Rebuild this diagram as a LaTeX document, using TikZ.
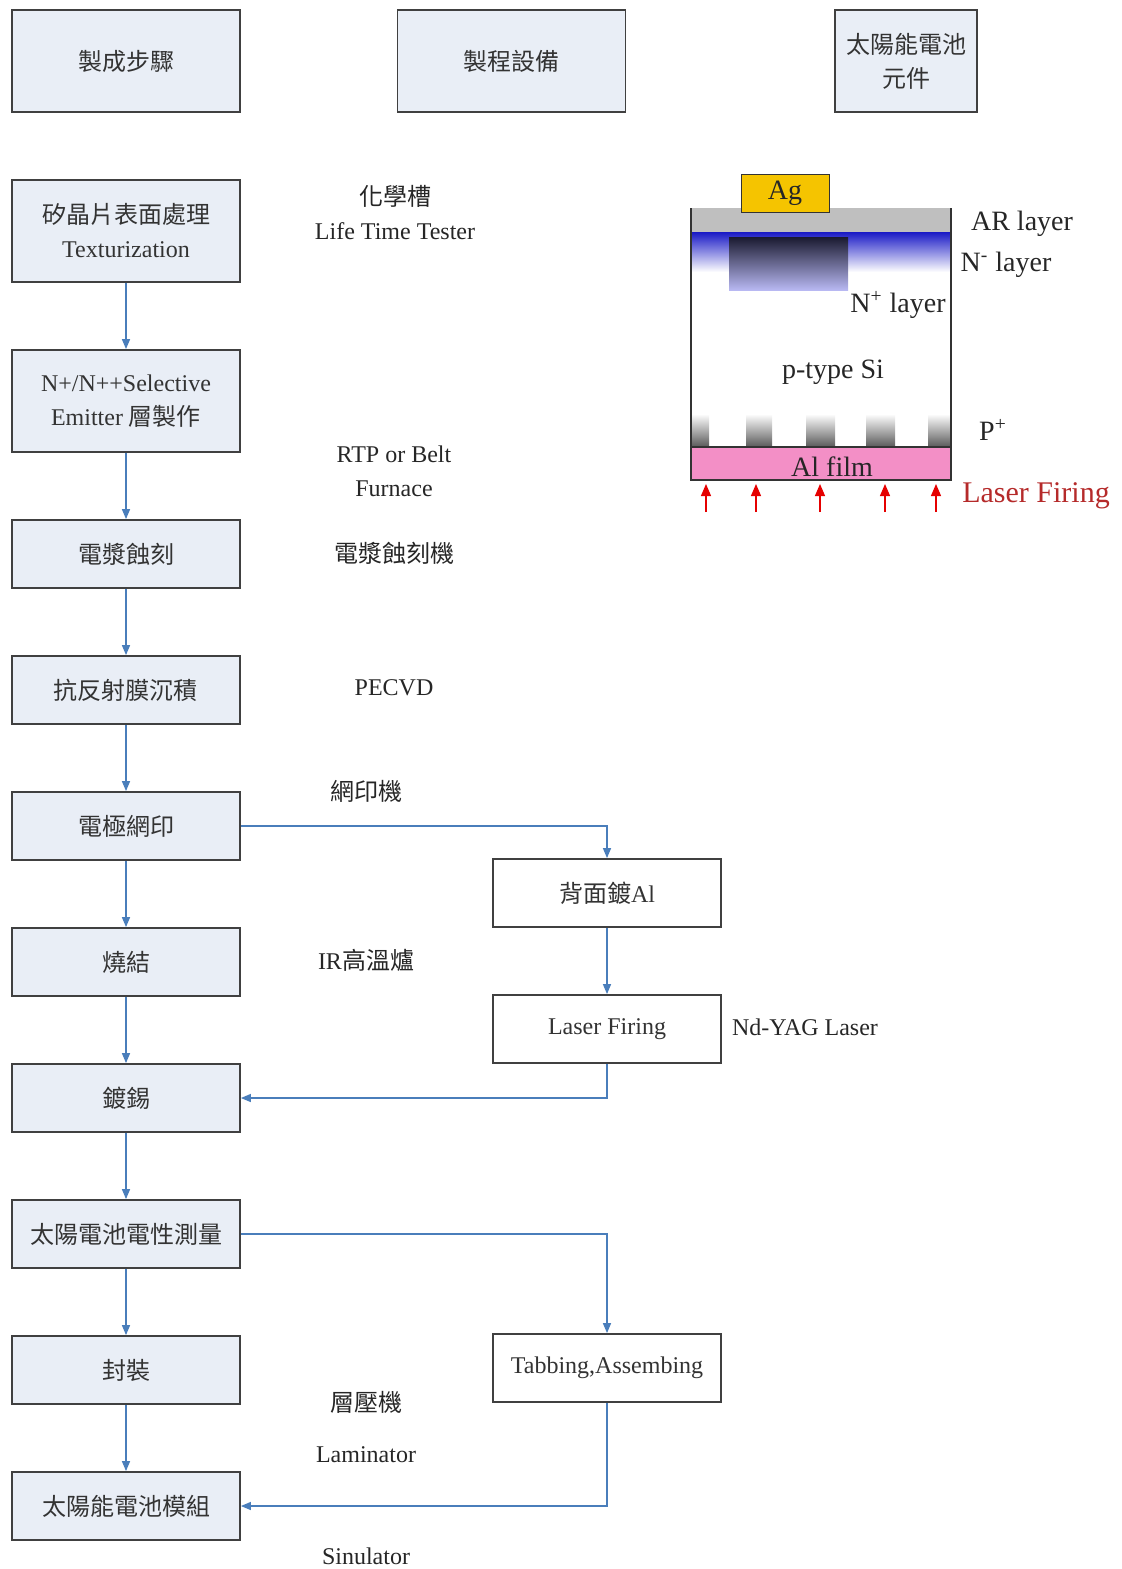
\documentclass[tikz,border=0pt]{standalone}
\usepackage{fontspec}
\setmainfont{Liberation Serif}
\newfontfamily\cjk{Noto Sans CJK TC}
\usetikzlibrary{arrows.meta,positioning}
\definecolor{boxfill}{HTML}{E9EEF6}
\definecolor{flowblue}{HTML}{4A7EBB}
\definecolor{agold}{HTML}{F5C400}
\definecolor{alpink}{HTML}{F38FC6}
\definecolor{firered}{HTML}{B52A2A}
\definecolor{nheavy}{HTML}{1A1A30}
\definecolor{nlight}{HTML}{B8B8F2}

\begin{document}
\begin{tikzpicture}[x=0.5pt,y=-0.5pt,>={Triangle[length=5pt,width=4pt]},node distance=33.1pt,
    font=\fontsize{12}{17}\selectfont,
    stepbox/.style={draw=black!75,line width=0.9pt,fill=boxfill,minimum width=114pt,
      minimum height=34pt,align=center,text=black!80},
    tall/.style={minimum height=51pt},
    sidebox/.style={stepbox,fill=white},
    flow/.style={->,draw=flowblue,line width=0.7pt},
    tool/.style={text=black!85,align=center},
    celltext/.style={text=black!85,font=\fontsize{14}{16}\selectfont}]

    \useasboundingbox (0,0) rectangle (1121,1569);

    \node[stepbox,tall] (hstep) at (126,61) {\cjk 製成步驟};
    \node[stepbox,tall] (htool) at (511.5,61) {\cjk 製程設備};
    \node[stepbox,tall,minimum width=71pt] (hcell) at (906,61) {{\cjk 太陽能電池}\\{\cjk 元件}};

    \node[stepbox,tall,below=of hstep] (tex) {{\cjk 矽晶片表面處理}\\Texturization};
    \node[stepbox,tall,below=of tex] (sel) {N+/N++Selective\\Emitter {\cjk 層製作}};
    \node[stepbox,below=of sel] (etch) {\cjk 電漿蝕刻};
    \node[stepbox,below=of etch] (arc) {\cjk 抗反射膜沉積};
    \node[stepbox,below=of arc] (print) {\cjk 電極網印};
    \node[stepbox,below=of print] (fire) {\cjk 燒結};
    \node[stepbox,below=of fire] (tin) {\cjk 鍍錫};
    \node[stepbox,below=of tin] (meas) {\cjk 太陽電池電性測量};
    \node[stepbox,below=of meas] (pack) {\cjk 封裝};
    \node[stepbox,below=of pack] (module) {\cjk 太陽能電池模組};

    \node[sidebox] (backal) at (607,893) {{\cjk 背面鍍}Al};
    \node[sidebox,below=of backal] (laser) {Laser Firing};
    \node[sidebox] (tab) at (607,1368) {Tabbing,Assembing};

    \foreach \a/\b in {tex/sel,sel/etch,etch/arc,arc/print,print/fire,fire/tin,tin/meas,meas/pack,pack/module}
      \draw[flow] (\a) -- (\b);
    \draw[flow] (print) -| (backal);
    \draw[flow] (backal) -- (laser);
    \draw[flow] (laser) |- (tin);
    \draw[flow] (meas) -| (tab);
    \draw[flow] (tab) |- (module);

    \node[tool] (chem) at (395,213) {{\cjk 化學槽}\\Life Time Tester};
    \node[tool] (rtp) at (394,471) {RTP or Belt\\Furnace};
    \node[tool] (etcher) at (394,553) {\cjk 電漿蝕刻機};
    \node[tool] (pecvd) at (394,688) {PECVD};
    \node[tool] (screen) at (366,791) {\cjk 網印機};
    \node[tool] (irfurn) at (366,960) {IR{\cjk 高溫爐}};
    \node[tool] (yag) at (805,1027) {Nd-YAG Laser};
    \node[tool] (lam) at (366,1402) {\cjk 層壓機};
    \node[tool] (lamen) at (366,1455) {Laminator};
    \node[tool] (sim) at (366,1556) {Sinulator};

    % cell cross section
    \shade[top color=blue!75!black!90,bottom color=white] (691,232) rectangle (951,272);
    \shade[top color=nheavy,bottom color=nlight] (729,237) rectangle (848,290);
    \fill[black!25] (691,208) rectangle (951,232);
    \foreach \a/\b in {691/709,746/772,806/835,866/895,928/951}
      \shade[top color=white,bottom color=black!65] (\a,414) rectangle (\b,447);
    \fill[alpink] (691,447) rectangle (951,480);
    \draw[black!80,line width=0.6pt] (691,447) -- (951,447);
    \draw[black!80,line width=0.6pt] (691,208) -- (691,480) -- (951,480) -- (951,208);
    \node[draw=black!80,fill=agold,minimum width=44pt,minimum height=16.5pt,celltext] (ag) at (785,193.5) {Ag};
    \foreach \x in {706,756,820,885,936}
      \draw[red!90!black,line width=0.6pt,-{Triangle[length=6pt,width=5pt]}] (\x,512) -- (\x,484);

    \node[celltext] (nplus) at (898,305) {N\textsuperscript{+} layer};
    \node[celltext] (ptype) at (833,372) {p-type Si};
    \node[celltext] (alfilm) at (832,467) {Al film};
    \node[celltext] (ar) at (1022,224) {AR layer};
    \node[celltext] (nminus) at (1006,265) {N\textsuperscript{-} layer};
    \node[celltext] (pplus) at (993,430) {P\textsuperscript{+}};
    \node[celltext,text=firered,font=\fontsize{15}{17}\selectfont] (lfire) at (1036,496) {Laser Firing};
\end{tikzpicture}
\end{document}
